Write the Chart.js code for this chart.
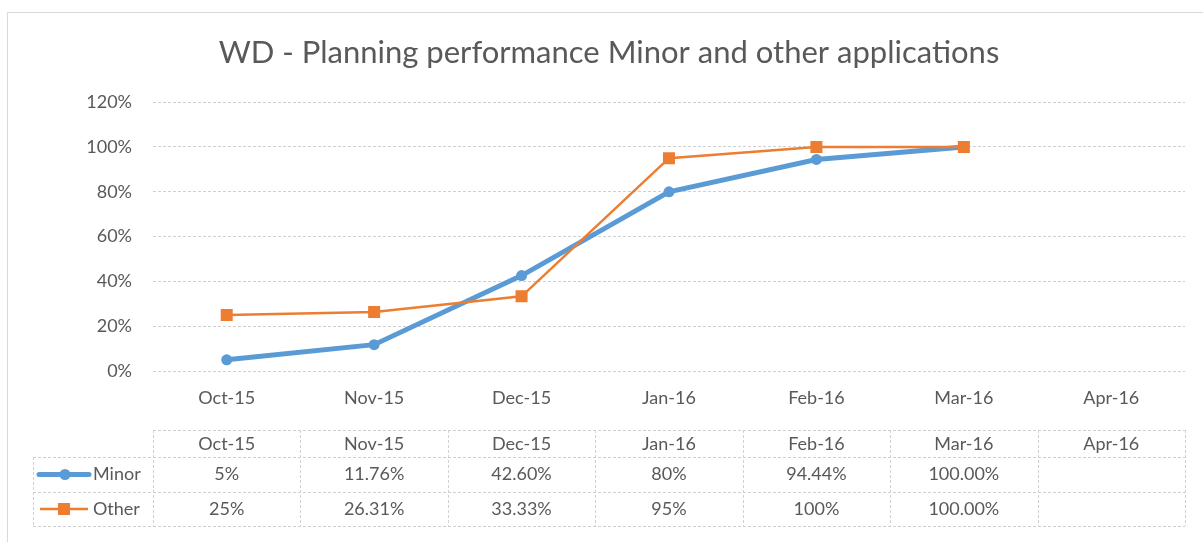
<!DOCTYPE html>
<html>
<head>
<meta charset="utf-8">
<title>WD - Planning performance</title>
<script src="https://cdn.jsdelivr.net/npm/chart.js@4/dist/chart.umd.min.js"></script>
<style>
  html, body { margin: 0; padding: 0; background: #ffffff; }
  #wrap { width: 1203px; height: 542px; }
</style>
</head>
<body>
<div id="wrap"><canvas id="perfChart" width="1203" height="542"></canvas></div>
<script>
// chart data
const months = ['Oct-15', 'Nov-15', 'Dec-15', 'Jan-16', 'Feb-16', 'Mar-16', 'Apr-16'];
const minorValues = [5, 11.76, 42.6, 80, 94.44, 100, null];
const otherValues = [25, 26.31, 33.33, 95, 100, 100, null];
// as shown in the data table under the chart
const minorLabels = ['5%', '11.76%', '42.60%', '80%', '94.44%', '100.00%', ''];
const otherLabels = ['25%', '26.31%', '33.33%', '95%', '100%', '100.00%', ''];
const yTicks = [0, 20, 40, 60, 80, 100, 120];

const TEXT = '#595959';
const GRID = '#d0d0d0';
const BLUE = '#5B9BD5';
const ORANGE = '#ED7D31';
const FONT = 'Lato, "Open Sans", sans-serif';

/**
 * Excel style frame + data table under the plot
 */
const dataTablePlugin = {
  id: 'dataTable',
  beforeDraw(chart) {
    const ctx = chart.ctx;
    ctx.save();
    ctx.strokeStyle = '#d9d9d9';
    ctx.lineWidth = 1;
    ctx.beginPath();
    ctx.moveTo(7.5, chart.height + 2);
    ctx.lineTo(7.5, 12.5);
    ctx.lineTo(chart.width + 2, 12.5);
    ctx.stroke();
    ctx.restore();
  },
  afterDraw(chart) {
    const ctx = chart.ctx;
    const xs = chart.scales.x;
    const colW = (xs.right - xs.left) / months.length;
    const rowTop = [430, 457, 492, 526];
    const keyLeft = 33;

    ctx.save();
    ctx.strokeStyle = GRID;
    ctx.lineWidth = 1;
    ctx.setLineDash([3, 2]);
    ctx.beginPath();
    // horizontal rules
    ctx.moveTo(xs.left, rowTop[0] + 0.5);
    ctx.lineTo(xs.right, rowTop[0] + 0.5);
    for (let r = 1; r < rowTop.length; r++) {
      ctx.moveTo(keyLeft, rowTop[r] + 0.5);
      ctx.lineTo(xs.right, rowTop[r] + 0.5);
    }
    // vertical rules
    ctx.moveTo(keyLeft + 0.5, rowTop[1]);
    ctx.lineTo(keyLeft + 0.5, rowTop[3]);
    for (let i = 0; i <= months.length; i++) {
      const x = Math.round(xs.left + i * colW) + 0.5;
      ctx.moveTo(x, rowTop[0]);
      ctx.lineTo(x, rowTop[3]);
    }
    ctx.stroke();
    ctx.setLineDash([]);

    // cell text
    ctx.fillStyle = TEXT;
    ctx.font = '18px ' + FONT;
    ctx.textAlign = 'center';
    ctx.textBaseline = 'middle';
    months.forEach((m, i) => {
      const cx = xs.getPixelForValue(i);
      ctx.fillText(m, cx, (rowTop[0] + rowTop[1]) / 2 + 1);
      ctx.fillText(minorLabels[i], cx, (rowTop[1] + rowTop[2]) / 2);
      ctx.fillText(otherLabels[i], cx, (rowTop[2] + rowTop[3]) / 2);
    });

    // legend keys
    const ds = chart.data.datasets;
    const yMinor = (rowTop[1] + rowTop[2]) / 2;
    const yOther = (rowTop[2] + rowTop[3]) / 2;
    ctx.lineCap = 'round';
    ctx.strokeStyle = ds[1].borderColor;
    ctx.lineWidth = ds[1].borderWidth;
    ctx.beginPath();
    ctx.moveTo(39, yMinor);
    ctx.lineTo(89, yMinor);
    ctx.stroke();
    ctx.fillStyle = ds[1].borderColor;
    ctx.beginPath();
    ctx.arc(65, yMinor, 5.5, 0, Math.PI * 2);
    ctx.fill();

    ctx.lineCap = 'butt';
    ctx.strokeStyle = ds[0].borderColor;
    ctx.lineWidth = ds[0].borderWidth;
    ctx.beginPath();
    ctx.moveTo(40, yOther);
    ctx.lineTo(88, yOther);
    ctx.stroke();
    ctx.fillStyle = ds[0].borderColor;
    ctx.fillRect(58, yOther - 6, 12, 12);

    ctx.fillStyle = TEXT;
    ctx.textAlign = 'left';
    ctx.fillText(ds[1].label, 93, yMinor);
    ctx.fillText(ds[0].label, 93, yOther);
    ctx.restore();
  }
};

const ctx = document.getElementById('perfChart').getContext('2d');
new Chart(ctx, {
  type: 'line',
  data: {
    labels: months,
    datasets: [
      {
        label: 'Other',
        data: otherValues,
        borderColor: ORANGE,
        backgroundColor: ORANGE,
        borderWidth: 2.5,
        pointStyle: 'rect',
        pointRadius: 8.5,
        pointBorderWidth: 0,
        tension: 0
      },
      {
        label: 'Minor',
        data: minorValues,
        borderColor: BLUE,
        backgroundColor: BLUE,
        borderWidth: 5,
        pointStyle: 'circle',
        pointRadius: 5.5,
        pointBorderWidth: 0,
        tension: 0
      }
    ]
  },
  options: {
    responsive: false,
    animation: false,
    layout: {
      padding: { top: 0, left: 33, right: 18, bottom: 0 }
    },
    plugins: {
      legend: { display: false },
      tooltip: { enabled: false },
      title: {
        display: true,
        text: 'WD - Planning performance Minor and other applications',
        color: TEXT,
        font: { family: FONT, size: 31, weight: 'normal' },
        padding: { top: 34, bottom: 31 }
      }
    },
    scales: {
      x: {
        offset: true,
        grid: { display: false, drawTicks: false },
        border: { display: false },
        ticks: {
          color: TEXT,
          font: { family: FONT, size: 18 },
          padding: 16,
          maxRotation: 0,
          autoSkip: false
        },
        afterFit(scale) {
          scale.height = 171;
        }
      },
      y: {
        min: 0,
        max: 120,
        afterBuildTicks(scale) {
          scale.ticks = yTicks.map(v => ({ value: v }));
        },
        grid: {
          color: GRID,
          lineWidth: 1,
          drawTicks: false
        },
        border: { display: false, dash: [3, 2] },
        ticks: {
          color: TEXT,
          font: { family: FONT, size: 18 },
          padding: 21,
          callback: function(value) {
            return value + '%';
          }
        },
        afterFit(scale) {
          scale.width = 120;
        }
      }
    }
  },
  plugins: [dataTablePlugin]
});
</script>
</body>
</html>
